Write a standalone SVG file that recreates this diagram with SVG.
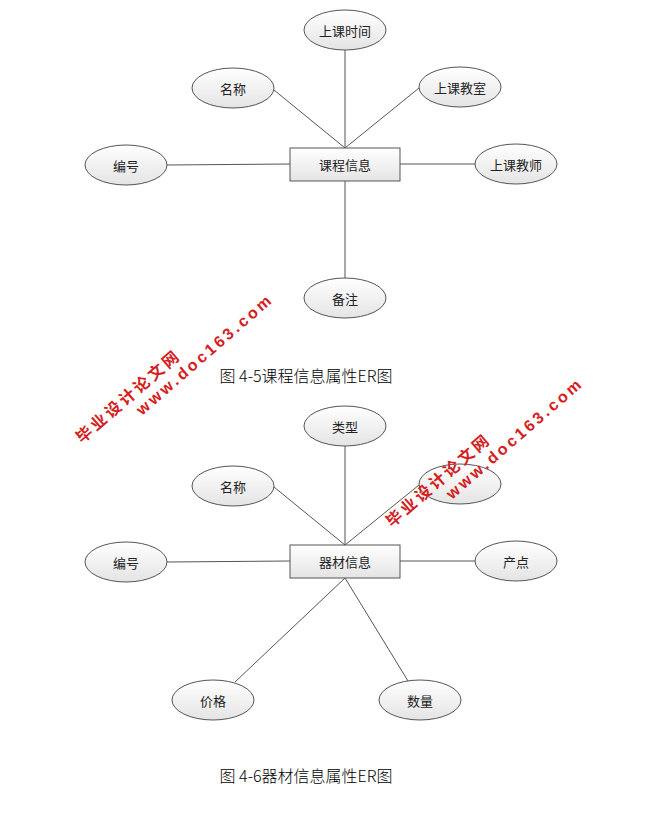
<svg xmlns="http://www.w3.org/2000/svg" width="657" height="834" viewBox="0 0 657 834">
<defs>
<linearGradient id="g" x1="0" y1="0" x2="0" y2="1"><stop offset="0" stop-color="#ffffff"/><stop offset="1" stop-color="#e4e4e4"/></linearGradient>
</defs>
<style>
.e{fill:url(#g);stroke:#555;stroke-width:1}
.r{fill:url(#g);stroke:#555;stroke-width:1}
.t{font-family:"Noto Sans CJK SC",sans-serif;font-size:13px;fill:#222;text-anchor:middle;dominant-baseline:central}
.c{font-family:"Noto Sans CJK SC",sans-serif;font-weight:300;font-size:16px;fill:#000;text-anchor:middle}
.l{stroke:#555;stroke-width:1;fill:none}
.w{font-family:"Liberation Sans","Noto Sans CJK SC",sans-serif;font-weight:bold;font-size:16px;fill:#d42020;letter-spacing:3px}
</style>
<rect width="657" height="834" fill="#fff"/>
<g id="connectors">
<line class="l" x1="345" y1="148" x2="345" y2="50"/>
<line class="l" x1="345" y1="148" x2="274" y2="90"/>
<line class="l" x1="345" y1="148" x2="419" y2="88"/>
<line class="l" x1="290" y1="164" x2="167" y2="165"/>
<line class="l" x1="400" y1="164" x2="475" y2="164"/>
<line class="l" x1="345" y1="181" x2="345" y2="278"/>
<line class="l" x1="345" y1="545" x2="345" y2="446"/>
<line class="l" x1="345" y1="545" x2="274" y2="487"/>
<line class="l" x1="345" y1="545" x2="419" y2="485"/>
<line class="l" x1="290" y1="561" x2="167" y2="562"/>
<line class="l" x1="400" y1="561" x2="475" y2="561"/>
<line class="l" x1="345" y1="578" x2="235" y2="682"/>
<line class="l" x1="345" y1="578" x2="408" y2="681"/>
</g>
<g id="n1"><ellipse class="e" cx="345" cy="30" rx="41" ry="20"/><text class="t" x="345" y="30">上课时间</text></g>
<g id="n2"><ellipse class="e" cx="233" cy="88" rx="41" ry="20"/><text class="t" x="233" y="88">名称</text></g>
<g id="n3"><ellipse class="e" cx="460" cy="87" rx="41" ry="20"/><text class="t" x="460" y="87">上课教室</text></g>
<g id="n4"><ellipse class="e" cx="126" cy="165" rx="41" ry="20"/><text class="t" x="126" y="165">编号</text></g>
<g id="n5"><ellipse class="e" cx="516" cy="164" rx="41" ry="20"/><text class="t" x="516" y="164">上课教师</text></g>
<g id="n6"><ellipse class="e" cx="345" cy="298" rx="41" ry="20"/><text class="t" x="345" y="298">备注</text></g>
<g id="n7"><rect class="r" x="290" y="148" width="110" height="33"/><text class="t" x="345" y="164">课程信息</text></g>
<text class="c" x="306" y="382">图 4-5课程信息属性ER图</text>
<g id="m1"><ellipse class="e" cx="345" cy="426" rx="41" ry="20"/><text class="t" x="345" y="426">类型</text></g>
<g id="m2"><ellipse class="e" cx="233" cy="486" rx="41" ry="20"/><text class="t" x="233" y="486">名称</text></g>
<g id="m3"><ellipse class="e" cx="460" cy="484" rx="41" ry="20"/></g>
<g id="m4"><ellipse class="e" cx="126" cy="562" rx="41" ry="20"/><text class="t" x="126" y="562">编号</text></g>
<g id="m5"><ellipse class="e" cx="516" cy="561" rx="41" ry="20"/><text class="t" x="516" y="561">产点</text></g>
<g id="m6"><ellipse class="e" cx="213" cy="700" rx="41" ry="20"/><text class="t" x="213" y="700">价格</text></g>
<g id="m7"><ellipse class="e" cx="420" cy="700" rx="41" ry="20"/><text class="t" x="420" y="700">数量</text></g>
<g id="m8"><rect class="r" x="290" y="545" width="110" height="33"/><text class="t" x="345" y="561">器材信息</text></g>
<text class="c" x="306" y="782">图 4-6器材信息属性ER图</text>
<g id="watermarks">
<text class="w" transform="translate(82,444) rotate(-41)">毕业设计论文网</text>
<text class="w" transform="translate(142,416) rotate(-41)">www.doc163.com</text>
<text class="w" transform="translate(392,528) rotate(-41)">毕业设计论文网</text>
<text class="w" transform="translate(452,500) rotate(-41)">www.doc163.com</text>
</g>
</svg>
